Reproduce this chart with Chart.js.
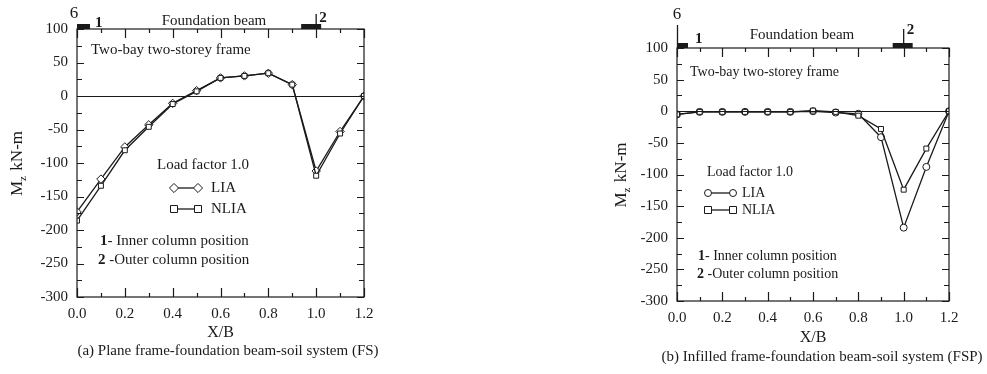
<!DOCTYPE html>
<html><head><meta charset="utf-8">
<script src="https://cdn.jsdelivr.net/npm/chart.js@4"></script>
<style>
body{margin:0;background:#fff;width:987px;height:374px;overflow:hidden;position:relative}
#wa{position:absolute;left:0;top:0;width:420px;height:374px}
#wb{position:absolute;left:560px;top:0;width:427px;height:374px}
</style></head><body>
<div id="wa"><canvas id="fs"></canvas></div>
<div id="wb"><canvas id="fsp"></canvas></div>
<script>
// X/B positions along the foundation beam
const xb = [0.0, 0.1, 0.2, 0.3, 0.4, 0.5, 0.6, 0.7, 0.8, 0.9, 1.0, 1.1, 1.2];
const xTicks = [0.0, 0.2, 0.4, 0.6, 0.8, 1.0, 1.2];
const yTicks = [100, 50, 0, -50, -100, -150, -200, -250, -300];

// (a) plane frame (FS), Mz in kN-m
const fsLIA  = [-173, -124, -76, -43, -11, 8, 27, 30, 34, 17, -112, -53, 0];
const fsNLIA = [-186, -134, -81, -46, -12, 7, 27, 30, 34, 17, -119, -56, 0];

// (b) infilled frame (FSP)
const fspLIA  = [-5, -1, -1, -1, -1, -1, 0, -2, -4, -41, -184, -88, 0];
const fspNLIA = [-5, -1, -1, -1, -1, -1, 1, -1, -7, -28, -124, -59, 0];

const SERIF = '"Liberation Serif", "Times New Roman", serif';
const INK = '#1a1a1a';

function font(size, bold) { return (bold ? 'bold ' : '') + size + 'px ' + SERIF; }

function marker(ctx, style, x, y, r) {
    ctx.save();
    ctx.fillStyle = '#fff';
    ctx.strokeStyle = INK;
    ctx.lineWidth = 1;
    ctx.beginPath();
    if (style === 'rect') ctx.rect(x - r, y - r, 2 * r, 2 * r);
    else if (style === 'rectRot') { ctx.moveTo(x, y - r * 1.3); ctx.lineTo(x + r * 1.3, y); ctx.lineTo(x, y + r * 1.3); ctx.lineTo(x - r * 1.3, y); ctx.closePath(); }
    else ctx.arc(x, y, r, 0, Math.PI * 2);
    ctx.fill();
    ctx.stroke();
    ctx.restore();
}

// text pieces [str, bold] drawn left to right
function runs(ctx, parts, x, y, size) {
    ctx.textBaseline = 'middle';
    ctx.textAlign = 'left';
    parts.forEach(([s, b]) => {
        ctx.font = font(size, b);
        ctx.fillText(s, x, y);
        x += ctx.measureText(s).width;
    });
}

function frameTicks(chart) {
    const {ctx, chartArea: a, scales: {x, y}} = chart;
    ctx.save();
    ctx.strokeStyle = INK;
    ctx.lineWidth = 1.2;
    ctx.strokeRect(a.left, a.top, a.right - a.left, a.bottom - a.top);
    ctx.beginPath();
    for (let i = 0; i <= 12; i++) {
        const px = Math.round(x.getPixelForValue(i / 10)) + 0.5;
        const len = i % 2 === 0 ? 9 : 4;
        ctx.moveTo(px, a.bottom); ctx.lineTo(px, a.bottom - len);
        ctx.moveTo(px, a.top); ctx.lineTo(px, a.top + len);
    }
    for (let v = -300; v <= 100; v += 25) {
        const py = Math.round(y.getPixelForValue(v)) + 0.5;
        const len = v % 50 === 0 ? 7 : 5;
        ctx.moveTo(a.left, py); ctx.lineTo(a.left + len, py);
        ctx.moveTo(a.right, py); ctx.lineTo(a.right - len, py);
    }
    ctx.stroke();
    // zero line
    ctx.lineWidth = 1;
    const z = Math.round(y.getPixelForValue(0)) + 0.5;
    ctx.beginPath(); ctx.moveTo(a.left, z); ctx.lineTo(a.right, z); ctx.stroke();
    ctx.restore();
}

function beamMarks(chart, o) {
    const {ctx, chartArea: a, scales: {x}} = chart;
    const x0 = x.getPixelForValue(0), x1 = x.getPixelForValue(1.0);
    ctx.save();
    ctx.fillStyle = INK;
    ctx.strokeStyle = INK;
    // column 1 bar at the left end, column 2 bar around X/B = 1.0
    ctx.fillRect(x0, a.top - 5, o.bar1, 5);
    ctx.fillRect(x1 - o.bar2L, a.top - 5, o.bar2L + o.bar2R, 5);
    ctx.lineWidth = 1.3;
    ctx.beginPath();
    ctx.moveTo(x1, a.top); ctx.lineTo(x1, a.top - o.stem2);
    if (o.stem1) { ctx.moveTo(x0 + 0.5, a.top); ctx.lineTo(x0 + 0.5, a.top - o.stem1); }
    ctx.stroke();
    ctx.textBaseline = 'middle';
    ctx.textAlign = 'center';
    ctx.font = font(17, false);
    ctx.fillText('6', x0 + o.sixDx, a.top - o.sixDy);
    ctx.font = font(15, true);
    ctx.textAlign = 'left';
    ctx.fillText('1', x0 + o.oneDx, a.top - o.oneDy);
    ctx.fillText('2', x1 + 3, a.top - o.twoDy);
    ctx.font = font(15, false);
    ctx.textAlign = 'center';
    ctx.fillText('Foundation beam', o.beamX, a.top - o.beamDy);
    ctx.restore();
}

function notes(chart, o) {
    const {ctx, chartArea: a} = chart;
    ctx.save();
    ctx.fillStyle = INK;
    runs(ctx, [['Two-bay two-storey frame', false]], o.frameX, o.frameY, o.size);
    runs(ctx, [['Load factor 1.0', false]], o.lfX, o.lfY, o.size);
    // legend samples
    [[o.lia, 'LIA', o.liaY], ['rect', 'NLIA', o.nliaY]].forEach(([st, lab, yy]) => {
        ctx.strokeStyle = INK;
        ctx.lineWidth = 1.3;
        ctx.beginPath(); ctx.moveTo(o.m1, yy); ctx.lineTo(o.m2, yy); ctx.stroke();
        marker(ctx, st, o.m1, yy, 3.5);
        marker(ctx, st, o.m2, yy, 3.5);
        ctx.fillStyle = INK;
        runs(ctx, [[lab, false]], o.labX, yy, o.size);
    });
    runs(ctx, [['1', true], ['- Inner column position', false]], o.n1X, o.n1Y, o.size);
    runs(ctx, [['2', true], [' -Outer column position', false]], o.n2X, o.n2Y, o.size);
    // axis titles and caption
    const cy = (a.top + a.bottom) / 2;
    ctx.save();
    ctx.translate(o.ytX, cy);
    ctx.rotate(-Math.PI / 2);
    ctx.textBaseline = 'middle';
    ctx.font = font(17, false);
    const w = ctx.measureText('M').width + ctx.measureText(' kN-m').width + 7;
    let tx = -w / 2;
    ctx.fillText('M', tx, 0); tx += ctx.measureText('M').width;
    ctx.font = font(11, false);
    ctx.fillText('z', tx, 5); tx += 6;
    ctx.font = font(17, false);
    ctx.fillText(' kN-m', tx, 0);
    ctx.restore();
    ctx.textAlign = 'center';
    ctx.textBaseline = 'middle';
    ctx.font = font(16, false);
    ctx.fillText('X/B', (a.left + a.right) / 2, o.xtY);
    ctx.font = font(o.capSize, false);
    ctx.fillText(o.caption, o.capX, o.capY);
    ctx.restore();
}

function build(id, lia, nlia, liaStyle, box, deco) {
    const ds = (label, vals, style, order) => ({
        label, order,
        data: xb.map((x, i) => ({x, y: vals[i]})),
        borderColor: INK, borderWidth: 1.3,
        pointStyle: style, pointRadius: style === 'rectRot' ? 4.2 : 3.5,
        pointBackgroundColor: '#fff', pointBorderColor: INK, pointBorderWidth: 1,
        tension: 0
    });
    new Chart(document.getElementById(id), {
        type: 'line',
        data: {datasets: [ds('LIA', lia, liaStyle, 1), ds('NLIA', nlia, 'rect', 0)]},
        options: {
            responsive: true, maintainAspectRatio: false, animation: false,
            layout: {padding: {left: 0, top: box.top, right: box.right, bottom: 0}},
            plugins: {legend: {display: false}, tooltip: {enabled: false}},
            scales: {
                x: {
                    type: 'linear', min: 0, max: 1.2,
                    afterFit: s => { s.height = box.xh; },
                    afterBuildTicks: s => { s.ticks = xTicks.map(v => ({value: v})); },
                    grid: {display: false, drawTicks: false}, border: {display: false},
                    ticks: {padding: 8, color: INK, font: {family: SERIF, size: 15}, callback: v => v.toFixed(1)}
                },
                y: {
                    min: -300, max: 100,
                    afterFit: s => { s.width = box.yw; },
                    afterBuildTicks: s => { s.ticks = yTicks.map(v => ({value: v})); },
                    grid: {display: false, drawTicks: false}, border: {display: false},
                    ticks: {padding: 9, color: INK, font: {family: SERIF, size: 15}}
                }
            }
        },
        plugins: [{
            id: 'decor',
            afterDraw(chart) { frameTicks(chart); beamMarks(chart, deco.beam); notes(chart, deco.notes); }
        }]
    });
}

build('fs', fsLIA, fsNLIA, 'rectRot', {top: 29, right: 56, xh: 77, yw: 77}, {
    beam: {bar1: 13, bar2L: 15, bar2R: 5, stem2: 15, stem1: 0, sixDx: -3, sixDy: 15, oneDx: 18, oneDy: 6, twoDy: 11, beamX: 214, beamDy: 8},
    notes: {size: 15, frameX: 91, frameY: 50, lfX: 157, lfY: 165, lia: 'rectRot', liaY: 188, nliaY: 209, m1: 174, m2: 198, labX: 211,
        n1X: 100, n1Y: 241, n2X: 98, n2Y: 260, ytX: 18, xtY: 333, caption: '(a) Plane frame-foundation beam-soil system (FS)', capX: 228, capY: 351, capSize: 15}
});

build('fsp', fspLIA, fspNLIA, 'circle', {top: 48, right: 38, xh: 73, yw: 117}, {
    beam: {bar1: 11, bar2L: 11, bar2R: 9, stem2: 19, stem1: 23, sixDx: 0, sixDy: 33, oneDx: 18, oneDy: 9, twoDy: 18, beamX: 242, beamDy: 13},
    notes: {size: 14, frameX: 130, frameY: 72, lfX: 147, lfY: 172, lia: 'circle', liaY: 193, nliaY: 210, m1: 148, m2: 173, labX: 182,
        n1X: 138, n1Y: 256, n2X: 137, n2Y: 274, ytX: 62, xtY: 338, caption: '(b) Infilled frame-foundation beam-soil system (FSP)', capX: 262, capY: 357, capSize: 15}
});
</script>
</body></html>
